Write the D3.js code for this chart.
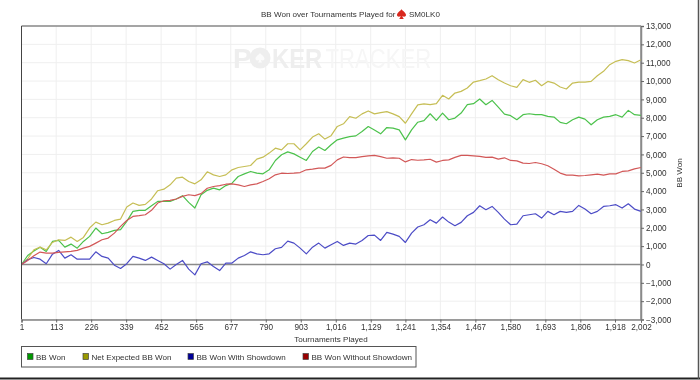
<!DOCTYPE html>
<html>
<head>
<meta charset="utf-8">
<script src="https://cdnjs.cloudflare.com/ajax/libs/d3/7.8.5/d3.min.js"></script>
<style>
html,body{margin:0;padding:0;background:#fff;overflow:hidden}
svg{display:block;font-family:"Liberation Sans",Arial,sans-serif;filter:blur(0.3px)}
</style>
</head>
<body>
<svg id="chart" width="700" height="380"></svg>
<script>
const titleText = "BB Won over Tournaments Played for";
const playerName = "SM0LK0";
const xLabel = "Tournaments Played";
const yLabel = "BB Won";
const xTicks = [1,113,226,339,452,565,677,790,903,1016,1129,1241,1354,1467,1580,1693,1806,1918,2002];
const yTicks = d3.range(-3000,13001,1000);
const tournaments = d3.range(1,1982,20).concat(2002);
const seriesNames = ["BB Won","Net Expected BB Won","BB Won With Showdown","BB Won Without Showdown"];
const bbWon = [0,490,730,945,710,1255,1310,945,1110,890,
1255,1530,1985,1675,1750,1855,1895,2350,2895,2950,
2950,3200,3440,3440,3440,3570,3750,3385,3075,3800,
4040,4160,4070,4300,4430,4795,4940,5070,4980,4940,
5160,5670,5980,6140,6030,5850,5670,6160,6400,6215,
6525,6795,6890,6970,7010,7245,7520,7335,7120,7465,
7430,7335,6790,7335,7755,7845,8215,7855,8255,7890,
7980,8255,8710,8765,9020,8710,8945,8580,8200,8110,
7890,8165,8215,8165,8165,8070,8035,7745,7670,7890,
8035,7925,7615,7890,8035,8070,8165,8035,8400,8165,8125];
const netExpected = [0,310,800,945,800,1200,1345,1310,1490,1255,
1475,1985,2310,2165,2255,2400,2475,3130,3350,3220,
3275,3570,4020,4105,4340,4705,4760,4525,4395,4615,
5050,4885,4795,4885,5160,5285,5340,5395,5740,5850,
6070,6340,6250,6580,6580,6250,6580,6945,7125,6835,
7020,7525,7670,8060,7970,8210,8370,8210,8280,8335,
8210,8060,7700,8210,8700,8750,8710,8765,9220,9020,
9345,9435,9620,9945,10020,10110,10290,10075,9890,9745,
9655,10075,9930,10040,9745,9980,9890,9675,9565,9890,
9945,9945,9980,10290,10530,10890,11075,11165,11110,10985,11165];
const withShowdown = [0,255,380,290,40,560,765,345,530,290,
290,290,690,440,345,-40,-220,40,440,345,
220,400,220,40,-255,0,220,-255,-565,40,
145,-110,-330,75,75,345,490,690,580,530,
580,855,930,1275,1165,890,580,945,1165,890,
1075,1255,1040,1165,1110,1310,1580,1600,1310,1750,
1655,1530,1200,1710,2040,2165,2440,2255,2585,2310,
2110,2295,2655,2840,3200,2985,3165,2840,2475,2165,
2200,2655,2710,2765,2530,2895,2710,2895,2840,2895,
3220,3020,2765,2895,3165,3200,3260,3075,3310,3020,2895];
const withoutShowdown = [0,220,475,675,620,620,655,690,710,765,
890,985,1165,1345,1440,1710,2075,2400,2620,2660,
2710,2950,3350,3475,3495,3570,3710,3800,3750,3860,
4155,4250,4300,4375,4395,4340,4250,4340,4395,4520,
4670,4885,4975,4960,4975,5010,5160,5195,5250,5250,
5400,5700,5860,5825,5825,5880,5920,5950,5880,5790,
5810,5790,5590,5720,5680,5700,5735,5580,5670,5705,
5835,5945,5945,5925,5890,5835,5850,5740,5815,5670,
5650,5525,5505,5560,5490,5380,5195,4980,4870,4870,
4830,4850,4885,4925,4870,4940,4940,5070,5105,5215,5285];

const lineColors = ["#4cc24c","#c6be55","#4c4cc6","#d25858"];
const swatchColors = ["#009900","#999900","#000099","#990000"];
const allSeries = [bbWon,netExpected,withShowdown,withoutShowdown];
const FS = 8.05;

const L=21.5,R=641,T=26,B=319.5;
const x=d3.scaleLinear().domain([1,2002]).range([L,R]);
const y=d3.scaleLinear().domain([-3000,13000]).range([B,T]);
const svg=d3.select("#chart");
const fmt=d3.format(",");
const spadePath="M0,-5C1.5,-3 4.5,-1.5 4.5,0.8C4.5,2.6 2.2,3 0.8,1.8C1,3 1.5,4 2.3,4.6L-2.3,4.6C-1.5,4 -1,3 -0.8,1.8C-2.2,3 -4.5,2.6 -4.5,0.8C-4.5,-1.5 -1.5,-3 0,-5Z";

// outer frame
svg.append("line").attr("x1",0).attr("x2",700).attr("y1",378.5).attr("y2",378.5).attr("stroke","#222").attr("stroke-width",2);
svg.append("line").attr("x1",698.5).attr("x2",698.5).attr("y1",0).attr("y2",379).attr("stroke","#555").attr("stroke-width",1.5);

// grid
const grid=svg.append("g").attr("stroke","#efefef").attr("stroke-width",1);
grid.selectAll("line.v").data(xTicks).join("line").attr("class","v")
  .attr("x1",d=>x(d)).attr("x2",d=>x(d)).attr("y1",T).attr("y2",B);
grid.selectAll("line.h").data(yTicks).join("line").attr("class","h")
  .attr("x1",L).attr("x2",R).attr("y1",d=>y(d)).attr("y2",d=>y(d));

// watermark
const wm=svg.append("g").attr("font-size",28);
wm.append("text").attr("x",233).attr("y",68).attr("font-weight","bold").attr("fill","#eeeeee").text("P");
wm.append("circle").attr("cx",260).attr("cy",58).attr("r",10.5).attr("fill","#eeeeee");
wm.append("path").attr("d",spadePath).attr("transform","translate(260,58)").attr("fill","#fbfbfb");
wm.append("text").attr("transform","translate(272,68) scale(0.85,1)").attr("font-weight","bold").attr("fill","#eeeeee").text("KER");
wm.append("text").attr("transform","translate(325.5,68) scale(0.79,1)").attr("fill","#f6f6f6").text("TRACKER");

// plot frame
svg.append("line").attr("x1",L).attr("x2",R).attr("y1",T).attr("y2",T).attr("stroke","#8a8a8a").attr("stroke-width",1.5);
svg.append("line").attr("x1",R).attr("x2",R).attr("y1",T).attr("y2",B).attr("stroke","#8a8a8a").attr("stroke-width",1.5);
svg.append("line").attr("x1",L).attr("x2",R).attr("y1",y(0)).attr("y2",y(0)).attr("stroke","#8a8a8a").attr("stroke-width",1.5);

// series
const line=d3.line().x((d,i)=>x(tournaments[i])).y(d=>y(d));
svg.append("g").attr("fill","none").attr("stroke-width",1.2).attr("stroke-linejoin","round")
  .selectAll("path").data(allSeries).join("path")
  .attr("d",d=>line(d)).attr("stroke",(d,i)=>lineColors[i]);

// axes
const xAxis=d3.axisBottom(x).tickValues(xTicks).tickFormat(fmt).tickSize(3).tickPadding(2);
const gx=svg.append("g").attr("transform",`translate(0,${B})`).call(xAxis);
const yAxis=d3.axisRight(y).tickValues(yTicks).tickFormat(fmt).tickSize(3).tickPadding(2);
const gy=svg.append("g").attr("transform",`translate(${R},0)`).call(yAxis);
[gx,gy].forEach(g=>{
  g.attr("font-family",null).attr("font-size",null);
  g.selectAll("text").attr("font-size",8.2).attr("fill","#333");
  g.selectAll("line").attr("stroke","#666");
});
gx.select(".domain").attr("stroke","#444");
gy.select(".domain").attr("stroke","#8a8a8a").attr("stroke-width",1.5);
svg.append("line").attr("x1",L).attr("x2",L).attr("y1",T).attr("y2",B).attr("stroke","#444");

// titles
const label=(sel,xp,yp,t,anchor)=>sel.append("text").attr("x",xp).attr("y",yp).attr("font-size",FS).attr("fill","#333").attr("text-anchor",anchor||"start").text(t);
label(svg,261,17,titleText);
label(svg,409,17,playerName);
svg.append("path").attr("d",spadePath).attr("transform","translate(401.5,14.3)").attr("fill","#d8281e");
label(svg,331,342,xLabel,"middle");
label(svg,0,0,yLabel,"middle").attr("transform",`translate(682,173) rotate(-90)`);

// legend
svg.append("rect").attr("x",21.5).attr("y",346.5).attr("width",394.5).attr("height",20.5).attr("fill","#fff").attr("stroke","#555");
const legendX=[27,82.5,187.5,302.5];
const lg=svg.append("g").selectAll("g").data(seriesNames).join("g").attr("transform",(d,i)=>`translate(${legendX[i]},0)`);
lg.append("rect").attr("x",0.5).attr("y",353.5).attr("width",5.5).attr("height",6).attr("fill",(d,i)=>swatchColors[i]).attr("stroke","#444").attr("stroke-width",.7);
lg.append("text").attr("x",9).attr("y",360).attr("font-size",FS).attr("fill","#333").text(d=>d);
</script>
</body>
</html>
